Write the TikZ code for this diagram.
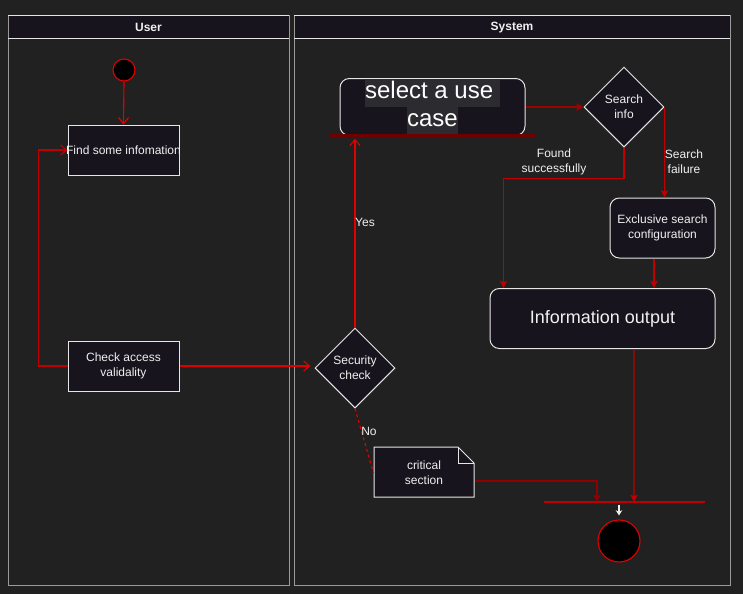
\documentclass[tikz,border=0pt]{standalone}
\usepackage{fontspec}
\setmainfont{Liberation Sans}
\usetikzlibrary{arrows.meta,shapes.geometric}

\definecolor{bgc}{HTML}{212121}
\definecolor{boxfill}{HTML}{18141D}
\definecolor{txt}{HTML}{F0F0F0}
\definecolor{edge}{HTML}{E6E6E6}
\definecolor{lanegray}{HTML}{9A9A9A}
\definecolor{hl}{HTML}{2C2C30}
\definecolor{linered}{HTML}{E00000}
\definecolor{flowred}{HTML}{C00000}
\definecolor{selred}{HTML}{A00000}
\definecolor{notered}{HTML}{900000}
\definecolor{barred}{HTML}{700000}
\setlength{\fboxsep}{0pt}

\begin{document}
\begin{tikzpicture}[x=0.75pt,y=-0.75pt,line width=0.85pt,
    act/.style={draw=edge, fill=boxfill, text=txt, inner sep=0pt, line width=0.75pt,
        minimum width=83.25pt, minimum height=37.5pt, align=center,
        font=\fontsize{9}{11}\selectfont},
    ract/.style={act, rounded corners=7pt},
    decide/.style={diamond, draw=edge, fill=boxfill, text=txt, inner sep=0pt, line width=0.75pt,
        minimum width=60pt, minimum height=60pt, align=center,
        font=\fontsize{9}{11}\selectfont},
    lbl/.style={text=txt, align=center, inner sep=1pt,
        font=\fontsize{9}{11}\selectfont},
    openarr/.style={-{Straight Barb[length=4.5pt,width=7.5pt]}},
    fillarr/.style={-{Stealth[length=5.5pt,width=5.5pt,inset=1.2pt]}}]

\fill[bgc] (0,0) rectangle (743,594);

% swimlanes
\foreach \l/\r/\t in {8/289/User, 294/730/System} {
    \fill[boxfill] (\l,15) rectangle (\r,38);
    \draw[lanegray, line width=0.75pt] (\l,15) rectangle (\r,585);
    \draw[edge, line width=0.75pt] (\l,15) -- (\r,15) (\l,38) -- (\r,38);
    \node[lbl, font=\bfseries\fontsize{9}{11}\selectfont] (hd\t) at ({(\l+\r)/2},27.5) {\t};
}

% bars
\coordinate (b1w) at (330,136);
\coordinate (b1e) at (535,136);
\coordinate (b2w) at (544,502);
\coordinate (b2e) at (705,502);
\coordinate (j1) at (597,502);
\coordinate (j2) at (634,502);
\coordinate (j3) at (619,502);

% note shape
\filldraw[fill=boxfill, draw=edge, line width=0.75pt] (374,447) -- (458,447) -- (474,463) -- (474,497) -- (374,497) -- cycle;
\draw[edge, line width=0.75pt] (458,447) -- (458,463) -- (474,463);

\node[circle, fill=black, draw=linered, inner sep=0pt, minimum size=16.5pt] (start) at (124,70) {};
\node[act] (find) at (123.5,150) {\makebox[83pt]{Find some infomation}};
\node[act] (check) at (123.5,366) {Check access\\validality};
\node[decide] (sec) at (355,368) {Security\\check};
\node[ract, draw=edge, minimum width=138.75pt, minimum height=42.75pt, text=white,
      font=\fontsize{18}{21}\selectfont] (sel) at (432.5,107)
      {\colorbox{hl}{\strut select a use }\\\colorbox{hl}{\strut case}};
\node[decide] (srch) at (624,107) {Search\\info};
\node[ract, minimum width=78.75pt, minimum height=45pt] (excl) at (662.5,228) {Exclusive search\\configuration};
\node[ract, minimum width=168.75pt, minimum height=45pt,
      font=\fontsize{13.5}{16}\selectfont] (out) at (602.5,318.5) {Information output};
\node[lbl, inner sep=0pt, minimum width=75pt, minimum height=37.5pt] (note) at (424,473) {critical\\section};
\node[circle, fill=black, draw=linered, inner sep=0pt, minimum size=31.5pt] (end) at (619,541) {};

\draw[barred, line width=3pt] (b1w) -- (b1e);
\draw[flowred, line width=2pt] (b2w) -- (b2e);

% connectors
\draw[linered, openarr] (start.south) -- (find.north);
\draw[flowred, openarr] (check.west) -- ++(-29,0) |- (find.west);
\draw[linered, openarr, shorten >=3pt] (check.east) -- (check.east -| sec.west);
\draw[linered, openarr, shorten >=2pt] (sec.north) -- (sec.north |- b1w);
\draw[selred, fillarr] (sel.east) -- (srch.west);
\draw[flowred, fillarr] (srch.south) -- ++(0,31) -| ([xshift=10.5pt]out.north west);
\draw[flowred, fillarr] (srch.east) -- (srch.east |- excl.north);
\draw[flowred, fillarr] ([xshift=-6.4pt]excl.south) -- ([xshift=-6.4pt]excl.south |- out.north);
\draw[flowred, fillarr] ([xshift=23.6pt]out.south) -- (j2);
\draw[notered, fillarr] ([yshift=-6pt]note.east) -| (j1);
\draw[linered, dash pattern=on 2.25pt off 2.25pt] (sec.south) -- (note.west);
\draw[txt, -{Stealth[length=4pt,width=5pt]}, shorten <=2pt, shorten >=3pt] (j3) -- (end.north);

% labels
\node[lbl] (yes) at (365,222) {Yes};
\node[lbl] (no) at (369,431) {No};
\node[lbl] (found) at (554,162) {Found\\successfully};
\node[lbl] (fail) at (684,162) {Search\\failure};

\end{tikzpicture}
\end{document}
